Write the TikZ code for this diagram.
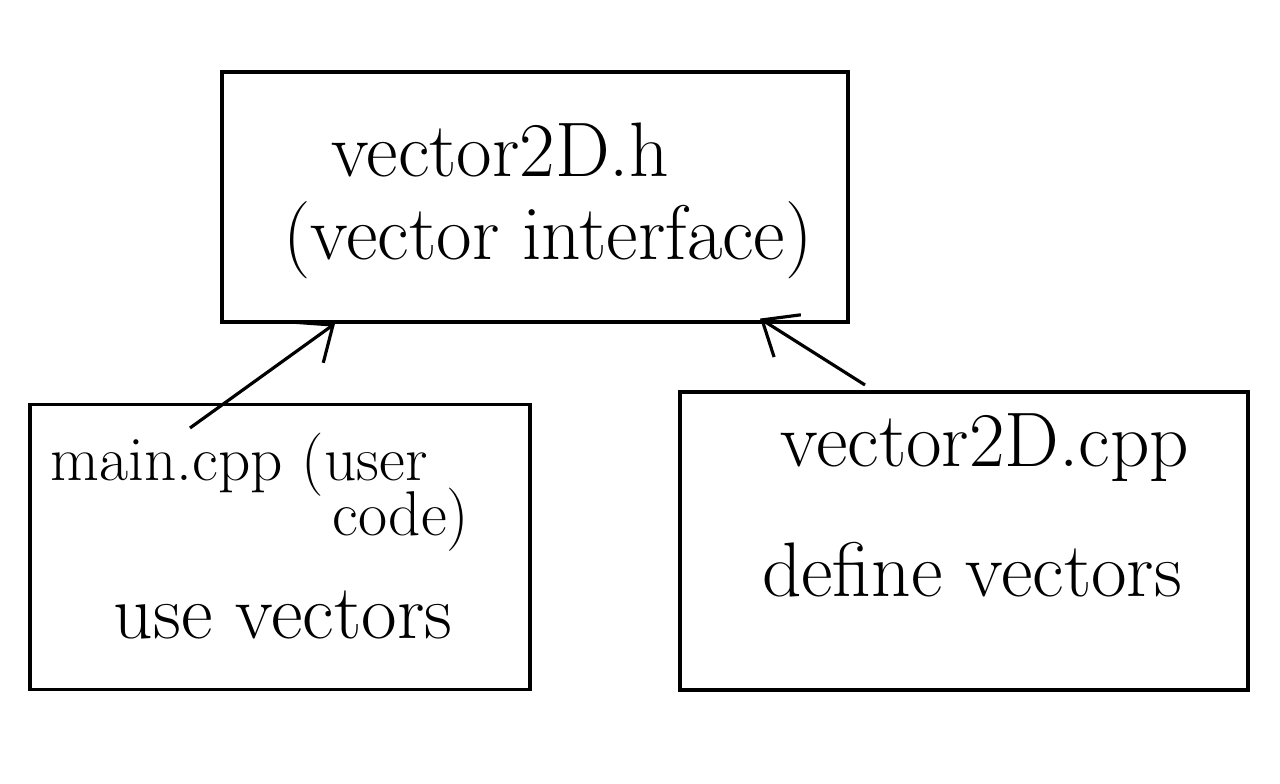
\documentclass[tikz,border=0pt]{standalone}
\usepackage{tikz}
\usetikzlibrary{arrows.meta,calc,positioning}
\tikzset{%
	filebox/.style = {draw, rectangle, line width=0.9pt, inner sep=0pt},
	bigtext/.style = {font=\fontsize{22}{26}\selectfont, inner sep=0pt},
	midtext/.style = {font=\fontsize{18}{22}\selectfont, inner sep=0pt},
	uses/.style    = {line width=0.9pt, -{Straight Barb[length=3mm,width=5mm]}},
}

\begin{document}
\begin{tikzpicture}
			\useasboundingbox (0,0) rectangle (12.8,7.83);
			% header file
			\node[filebox, minimum width=6.26cm, minimum height=2.5cm] (hdr) at (5.35,5.86) {};
			\node[bigtext] (hdrname) at (5.0,6.33) {vector2D.h};
			\node[bigtext] (hdrnote) at (5.48,5.43) {(vector interface)};
			
			% user code
			\node[filebox, minimum width=5.0cm, minimum height=2.85cm] (mainbox) at (2.80,2.36) {};
			\node[midtext, anchor=west] (mainname) at (0.50,3.18) {main.cpp (user};
			\node[midtext, anchor=east] (mainrest) at (4.70,2.63) {code)};
			\node[bigtext] (mainnote) at (2.83,1.68) {use vectors};
			
			% implementation
			\node[filebox, minimum width=5.68cm, minimum height=2.98cm] (implbox) at (9.64,2.42) {};
			\node[bigtext] (implname) at (9.85,3.35) {vector2D.cpp};
			\node[bigtext] (implnote) at (9.72,2.13) {define vectors};
			
			\coordinate (maintail) at (1.90,3.55);
			\coordinate (impltail) at (8.65,3.98);
			\draw[uses] (maintail) -- ($(hdr.south)+(-2.0,0)$);
			\draw[uses] (impltail) -- ($(hdr.south)+(2.25,0.05)$);
		\end{tikzpicture}
\end{document}
